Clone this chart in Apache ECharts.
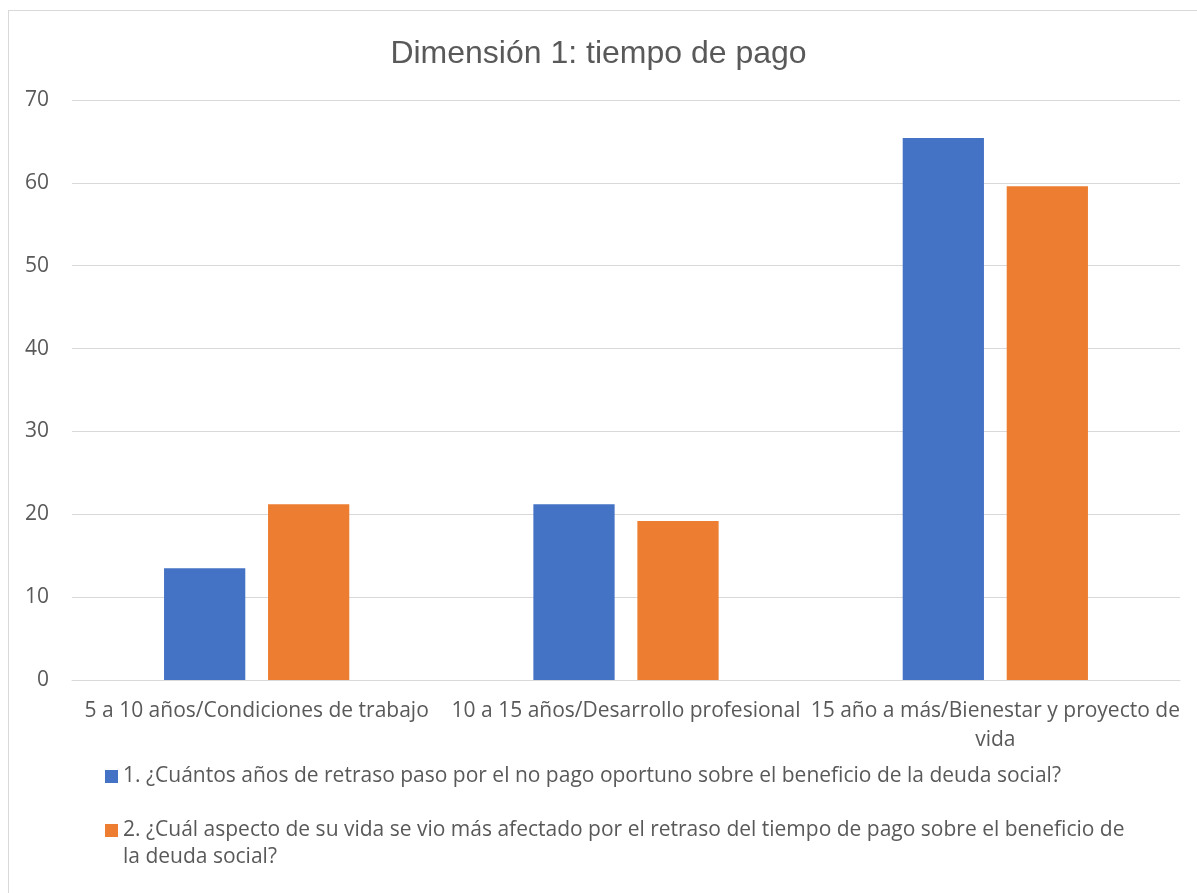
<!DOCTYPE html>
<html>
<head>
<meta charset="utf-8">
<script src="https://cdn.jsdelivr.net/npm/echarts@6/dist/echarts.min.js"></script>
<style>
  html, body { margin: 0; padding: 0; background: #fff; overflow: hidden; }
  #main { position: absolute; left: 0; top: 0; width: 1197px; height: 893px; }
  #marco { position: absolute; left: 8px; top: 10px; width: 1200px; height: 900px; border: 1px solid #d9d9d9; box-sizing: border-box; pointer-events: none; }
</style>
</head>
<body>
<div id="main"></div>
<div id="marco"></div>
<script>
// datos
var categorias = ['5 a 10 años/Condiciones de trabajo', '10 a 15 años/Desarrollo profesional', '15 año a más/Bienestar y proyecto de vida'];
var pregunta1 = [13.5, 21.2, 65.4];
var pregunta2 = [21.2, 19.2, 59.6];
var nombre1 = '1. ¿Cuántos años de retraso paso por el no pago oportuno sobre el beneficio de la deuda social?';
var nombre2 = '2. ¿Cuál aspecto de su vida se vio más afectado por el retraso del tiempo de pago sobre el beneficio de la deuda social?';

var myChart = echarts.init(document.getElementById('main'));
var fuente = '"Open Sans", "Noto Sans", sans-serif';
var option = {
  backgroundColor: 'transparent',
  textStyle: { fontFamily: fuente },
  title: {
    text: 'Dimensión 1: tiempo de pago',
    left: 'center',
    top: 33,
    textStyle: { color: '#595959', fontSize: 32, fontWeight: 'normal', fontFamily: '"Liberation Sans", Arial, sans-serif' }
  },
  grid: { left: 72, right: 17, top: 100, bottom: 213, containLabel: false },
  legend: [
    {
      orient: 'vertical', left: 100, top: 758, itemWidth: 13, itemHeight: 13,
      icon: 'rect', data: [nombre1],
      textStyle: { color: '#595959', fontSize: 21, lineHeight: 27, fontFamily: fuente }
    },
    {
      // cuadro alto con el color solo arriba, para que quede en la primera línea
      orient: 'vertical', left: 100, top: 812, itemWidth: 13, itemHeight: 54,
      icon: 'path://M0,7H13V20H0Z M0,0 M13,54', data: [nombre2],
      formatter: function (name) {
        return name.replace('beneficio de ', 'beneficio de\n');
      },
      textStyle: { color: '#595959', fontSize: 21, lineHeight: 27, fontFamily: fuente }
    }
  ],
  xAxis: {
    type: 'category',
    data: categorias,
    axisLine: { lineStyle: { color: '#d9d9d9', width: 1 } },
    axisTick: { show: false },
    axisLabel: {
      color: '#595959', fontSize: 21, interval: 0, lineHeight: 29, margin: 17, fontFamily: fuente,
      formatter: function (v) {
        // como en el original, la última palabra pasa a la segunda línea si no cabe
        if (v.length > 36) {
          var i = v.lastIndexOf(' ');
          return v.slice(0, i) + '\n' + v.slice(i + 1);
        }
        return v;
      }
    }
  },
  yAxis: {
    type: 'value',
    min: 0,
    max: 70,
    interval: 10,
    axisLine: { show: false },
    axisTick: { show: false },
    splitLine: { lineStyle: { color: '#d9d9d9', width: 1 } },
    axisLabel: { color: '#595959', fontSize: 21, margin: 23, fontFamily: fuente }
  },
  series: [
    {
      name: nombre1,
      type: 'bar',
      data: pregunta1,
      barWidth: '22%',
      barGap: '28%',
      itemStyle: { color: '#4472c4' }
    },
    {
      name: nombre2,
      type: 'bar',
      data: pregunta2,
      barWidth: '22%',
      itemStyle: { color: '#ed7d31' }
    }
  ]
};
myChart.setOption(option);
</script>
</body>
</html>
